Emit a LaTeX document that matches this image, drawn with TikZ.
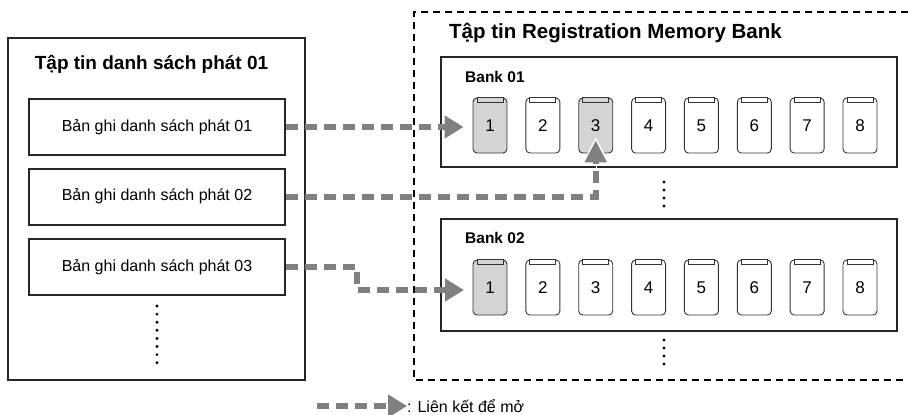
\documentclass[tikz,border=0pt]{standalone}
\usepackage{fontspec}
\setmainfont{Liberation Sans}
\usetikzlibrary{arrows.meta,calc}
\definecolor{linkgray}{RGB}{128,128,128}
\definecolor{slotgray}{RGB}{212,212,212}
\begin{document}
\begin{tikzpicture}[x=1pt,y=-1pt,
  frame/.style={draw=black!85, line width=2pt, inner sep=0pt},
  rec/.style={frame, minimum width=256pt, minimum height=56pt, font=\fontsize{16}{19}\selectfont},
  bankbox/.style={frame, minimum width=456pt},
  slot/.style={draw=black!80, line width=0.9pt, rounded corners=4pt, minimum width=34pt, minimum height=55pt, inner sep=0pt, font=\fontsize{17}{20}\selectfont},
  tab/.style={draw=black!80, line width=0.9pt},
  link/.style={draw=linkgray, line width=6pt, dash pattern=on 12pt off 7pt, -{Triangle[length=19pt,width=22pt,fill=linkgray]}},
  linkup/.style={draw=linkgray, line width=6pt, dash pattern=on 12pt off 7pt, -{Triangle[length=22pt,width=21pt,fill=linkgray]}},
  halo/.style={draw=white, line width=0.1pt, -{Triangle[length=27pt,width=28pt,fill=white]}},
  dotc/.style={fill=black, circle, inner sep=0pt, minimum size=3.2pt},
  outer/.style={draw=black, line width=2pt, dash pattern=on 7pt off 5pt}
]
\useasboundingbox (0,0) rectangle (908,415);

% left file box
\node[frame, minimum width=297pt, minimum height=342pt] (lbox) at (156.5,209) {};
\node[font=\bfseries\fontsize{19}{22}\selectfont] (ltitle) at (151.5,64) {Tập tin danh sách phát 01};
\node[rec] (r1) at (157,127) {Bản ghi danh sách phát 01};
\node[rec] (r2) at (157,196.5) {Bản ghi danh sách phát 02};
\node[rec] (r3) at (157,267) {Bản ghi danh sách phát 03};
\foreach \k in {0,...,7} \node[dotc] (ld\k) at (157,306+8.1*\k) {};

% right dashed region (open to the right)
\coordinate (o1) at (908,12);
\coordinate (o2) at (414,12);
\coordinate (o3) at (414,380);
\coordinate (o4) at (908,380);
\draw[outer] (o1) -- (o2) -- (o3) -- (o4);
\node[font=\bfseries\fontsize{20.5}{24}\selectfont, anchor=west, inner sep=0pt] (rtitle) at (449,33) {Tập tin Registration Memory Bank};

% banks
\node[bankbox, minimum height=110pt] (bank1) at (669,112) {};
\node[bankbox, minimum height=112pt] (bank2) at (669,275) {};
\node[font=\bfseries\fontsize{15.5}{18}\selectfont, anchor=west, inner sep=0pt] (b1lab) at (465,77) {Bank 01};
\node[font=\bfseries\fontsize{15.5}{18}\selectfont, anchor=west, inner sep=0pt] (b2lab) at (465,238) {Bank 02};

\foreach \b/\yy in {1/125.5, 2/287.5} {
  \foreach \i in {1,...,8} {
    \pgfmathsetmacro{\xx}{490+(\i-1)*52.86}
    \def\fillc{white}
    \ifnum\b=1 \ifnum\i=1 \def\fillc{slotgray}\fi \ifnum\i=3 \def\fillc{slotgray}\fi \fi
    \ifnum\b=2 \ifnum\i=1 \def\fillc{slotgray}\fi \fi
    \node[slot, fill=\fillc] (s\b\i) at (\xx,\yy) {\raisebox{-0.5pt}{\i}};
    \draw[tab, fill=\fillc] ([xshift=-13pt]s\b\i.north) rectangle ([xshift=13pt,yshift=-5pt]s\b\i.north);
  }
}

\foreach \k in {0,...,3} \node[dotc] (md\k) at (664,182+8*\k) {};
\foreach \k in {0,...,3} \node[dotc] (bd\k) at (664,340+8*\k) {};

% links
\draw[link] (r1.east) -- ([xshift=-9pt]r1.east -| s11.west);
\coordinate (t2) at ($(s13.south)+(0,-13)$);
\coordinate (h2) at ($(t2)+(0,-3)$);
\coordinate (h2b) at ($(t2)+(0,30)$);
\draw[halo] (h2b) -- (h2);
\draw[linkup] (r2.east) -| (t2);
\coordinate (k3) at (357,290);
\coordinate (t3) at (464,290);
\draw[link] (r3.east) -| (k3) -- (t3);

% legend
\coordinate (la) at (317,406);
\node[font=\fontsize{16}{19}\selectfont, anchor=west, inner sep=0pt] (lt) at (407,406) {: Liên kết để mở};
\draw[link] (la) -- (lt.west);
\end{tikzpicture}
\end{document}
